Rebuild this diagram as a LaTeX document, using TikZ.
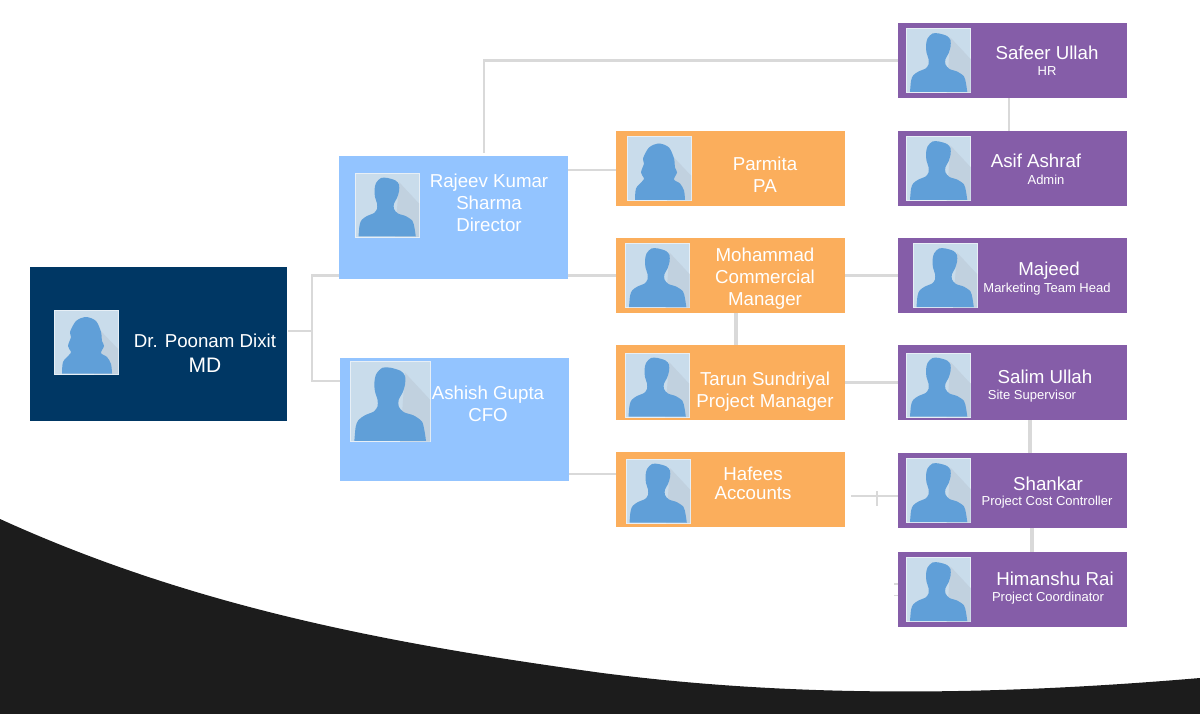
\documentclass[tikz,border=0pt]{standalone}
\usepackage{xcolor}
\usepackage{fontspec}
\setmainfont{Liberation Sans}
\usetikzlibrary{positioning, calc}
\definecolor{navyColor}{HTML}{003764}
\definecolor{skyColor}{HTML}{93C4FF}
\definecolor{orangeColor}{HTML}{FBAE5C}
\definecolor{purpleColor}{HTML}{855DA8}
\definecolor{linkColor}{HTML}{D9D9D9}
\definecolor{photoColor}{HTML}{C9DCEB}
\definecolor{shadeColor}{HTML}{C1D1DF}
\definecolor{faceColor}{HTML}{609FD8}
\definecolor{swooshColor}{HTML}{1C1C1C}
\tikzset{
    staffbox/.style={
        rectangle,
        inner sep=0pt,
        outer sep=0pt,
        minimum width=229pt,
        minimum height=75.5pt
    },
    mdbox/.style={staffbox, fill=navyColor, minimum width=257pt, minimum height=154pt},
    headbox/.style={staffbox, fill=skyColor, minimum height=123.5pt},
    teambox/.style={staffbox, fill=orangeColor},
    memberbox/.style={staffbox, fill=purpleColor},
    photo/.style={
        rectangle,
        inner sep=0pt,
        outer sep=0pt,
        fill=photoColor,
        draw=white!55!photoColor,
        line width=0.7pt,
        minimum size=64pt
    },
    bigphoto/.style={photo, minimum size=80pt},
    title/.style={
        text=white,
        align=center,
        inner sep=0pt,
        font=\fontsize{18.7}{22}\selectfont
    },
    subtitle/.style={
        text=white,
        align=center,
        inner sep=0pt,
        font=\fontsize{13}{15}\selectfont
    },
    link/.style={
        draw=linkColor,
        line width=2.6pt
    },
    stub/.style={
        draw=linkColor,
        line width=1.2pt
    },
    man/.pic={
        \begin{scope}[shift={(-32,-32)}]
            \fill[shadeColor] (44,9) -- (64,30.5) -- (64,64) -- (40,64) -- cycle;
            \fill[faceColor] plot[smooth, tension=0.5] coordinates {(3.5,63.5) (4.6,52) (6.8,46.8) (12,43)
                (19,40) (22,36) (22,30.5) (20,24) (19.5,17) (21,10) (26,5) (32.5,5) (40.5,7.5)
                (44,11.6) (44,18.4) (42,25) (39,30.5) (39,36) (43,40.5) (51,43.2) (57.5,48)
                (59.5,55) (60.8,63.5)} -- cycle;
        \end{scope}
    },
    woman/.pic={
        \begin{scope}[shift={(-32,-32)}]
            \fill[shadeColor] (45,19) -- (64,39) -- (64,64) -- (40,64) -- cycle;
            \fill[faceColor] plot[smooth, tension=0.5] coordinates {(8,63.5) (9,52) (15,45) (17,42)
                (14,36) (17,27) (16,22) (22,11) (32,7) (42,11) (47,22) (48,31) (50,36) (47,43)
                (53,47) (57,54) (58,63.5)} -- cycle;
        \end{scope}
    }
}
\begin{document}
\begin{tikzpicture}[x=1pt, y=-1pt]
    \useasboundingbox (0,0) rectangle (1200,714);
    \fill[swooshColor] (0,519) .. controls (200,610) and (400,645) .. (600,672.7)
        .. controls (800,698.7) and (1000,695) .. (1200,678) -- (1200,714) -- (0,714) -- cycle;

    % boxes
    \node[mdbox] (Poonam) at (158.5,344) {};
    \node[headbox] (Rajeev) at (453.5,217.5) {};
    \node[headbox] (Ashish) at (454.5,419.5) {};

    \node[teambox] (Parmita) at (730.5,168.5) {};
    \node[teambox, below=31.5pt of Parmita] (Mohammad) {};
    \node[teambox, below=31.5pt of Mohammad] (Tarun) {};
    \node[teambox, below=31.5pt of Tarun] (Hafees) {};

    \node[memberbox] (Safeer) at (1012.5,60.5) {};
    \node[memberbox, below=32.5pt of Safeer] (Asif) {};
    \node[memberbox, below=31.5pt of Asif] (Majeed) {};
    \node[memberbox, below=31.5pt of Majeed] (Salim) {};
    \node[memberbox, below=32.5pt of Salim] (Shankar) {};
    \node[memberbox, below=23.5pt of Shankar] (Himanshu) {};

    % connectors
    \coordinate (PoonamOut) at ($(Poonam.east)+(1,-13)$);
    \coordinate (PoonamFork) at (312,331);
    \coordinate (RajeevTop) at (484,153);
    \coordinate (HafeesOut) at (851,496);
    \coordinate (HafeesTickTop) at (877,491);
    \coordinate (HafeesTickEnd) at (877,506);
    \draw[link] (PoonamOut) -- (PoonamFork);
    \draw[link] (Rajeev.west |- Mohammad) -| (PoonamFork);
    \draw[link] (Ashish.west |- 0,381) -| (PoonamFork);
    \draw[link] (RajeevTop) |- (Safeer.west);
    \draw[link] (Rajeev.east |- 0,170) -- (Parmita.west |- 0,170);
    \draw[link] (Rajeev.east |- Mohammad) -- (Mohammad.west);
    \draw[link] (Ashish.east |- 0,474) -- (Hafees.west |- 0,474);
    \draw[link] (Mohammad.east) -- (Majeed.west);
    \draw[link] (Tarun.east) -- (Salim.west);
    \draw[link] (HafeesOut) -- (Shankar.west |- HafeesOut);
    \draw[link] (HafeesTickTop) -- (HafeesTickEnd);
    \draw[link, line width=4pt] (736,0 |- Mohammad.south) -- (736,0 |- Tarun.north);
    \draw[link] (1009,0 |- Safeer.south) -- (1009,0 |- Asif.north);
    \draw[link, line width=3.4pt] (1030,0 |- Salim.south) -- (1030,0 |- Shankar.north);
    \draw[link, line width=3.4pt] (1032,0 |- Shankar.south) -- (1032,0 |- Himanshu.north);
    \draw[stub] ([yshift=5.5pt]Himanshu.west) -- ++(-4,0);
    \draw[stub] ([yshift=-6pt]Himanshu.west) -- ++(-4,0);

    % photos
    \node[photo, right=24pt of Poonam.west, yshift=2pt] (PoonamPhoto) {};
    \pic at (PoonamPhoto) {woman};
    \node[photo, right=16pt of Rajeev.west, yshift=12.5pt] (RajeevPhoto) {};
    \pic at (RajeevPhoto) {man};
    \node[bigphoto, right=10pt of Ashish.west, yshift=18pt] (AshishPhoto) {};
    \pic[scale=1.25] at (AshishPhoto) {man};
    \node[photo, right=11pt of Parmita.west] (ParmitaPhoto) {};
    \pic at (ParmitaPhoto) {woman};
    \node[photo, right=9.5pt of Mohammad.west] (MohammadPhoto) {};
    \pic at (MohammadPhoto) {man};
    \node[photo, right=9pt of Tarun.west, yshift=-2.5pt] (TarunPhoto) {};
    \pic at (TarunPhoto) {man};
    \node[photo, right=10pt of Hafees.west, yshift=-1.5pt] (HafeesPhoto) {};
    \pic at (HafeesPhoto) {man};
    \node[photo, right=8.5pt of Safeer.west] (SafeerPhoto) {};
    \pic at (SafeerPhoto) {man};
    \node[photo, right=8.5pt of Asif.west] (AsifPhoto) {};
    \pic at (AsifPhoto) {man};
    \node[photo, right=15pt of Majeed.west] (MajeedPhoto) {};
    \pic at (MajeedPhoto) {man};
    \node[photo, right=8.5pt of Salim.west, yshift=-2.5pt] (SalimPhoto) {};
    \pic at (SalimPhoto) {man};
    \node[photo, right=8.5pt of Shankar.west] (ShankarPhoto) {};
    \pic at (ShankarPhoto) {man};
    \node[photo, right=8.5pt of Himanshu.west] (HimanshuPhoto) {};
    \pic at (HimanshuPhoto) {man};

    % labels
    \node[title] (PoonamName) at (205,341) {Dr. Poonam Dixit};
    \node[title, font=\fontsize{21}{24}\selectfont] (PoonamRole) at (205,365) {MD};
    \node[title] (RajeevName) at (489,203) {Rajeev Kumar\\Sharma\\Director};
    \node[title] (AshishName) at (488,403.5) {Ashish Gupta\\CFO};
    \node[title] (ParmitaName) at (765,175) {Parmita\\PA};
    \node[title] (MohammadName) at (765,278.5) {Mohammad\\Commercial\\Manager};
    \node[title] (TarunName) at (765,391.5) {Tarun Sundriyal\\Project Manager};
    \node[title, font=\fontsize{18.7}{19.5}\selectfont] (HafeesName) at (753,483.5) {Hafees\\Accounts};

    \node[title] (SafeerName) at (1047,53) {Safeer Ullah};
    \node[subtitle] (SafeerRole) at (1047,71.5) {HR};
    \node[title] (AsifName) at (1036,161) {Asif Ashraf};
    \node[subtitle] (AsifRole) at (1046,179.5) {Admin};
    \node[title] (MajeedName) at (1049,271) {Majeed};
    \node[subtitle] (MajeedRole) at (1047,289.5) {Marketing Team Head};
    \node[title] (SalimName) at (1045,377) {Salim Ullah};
    \node[subtitle] (SalimRole) at (1032,396.5) {Site Supervisor};
    \node[title] (ShankarName) at (1048,483.5) {Shankar};
    \node[subtitle] (ShankarRole) at (1047,502.5) {Project Cost Controller};
    \node[title] (HimanshuName) at (1055,579) {Himanshu Rai};
    \node[subtitle] (HimanshuRole) at (1048,598.5) {Project Coordinator};
\end{tikzpicture}
\end{document}
